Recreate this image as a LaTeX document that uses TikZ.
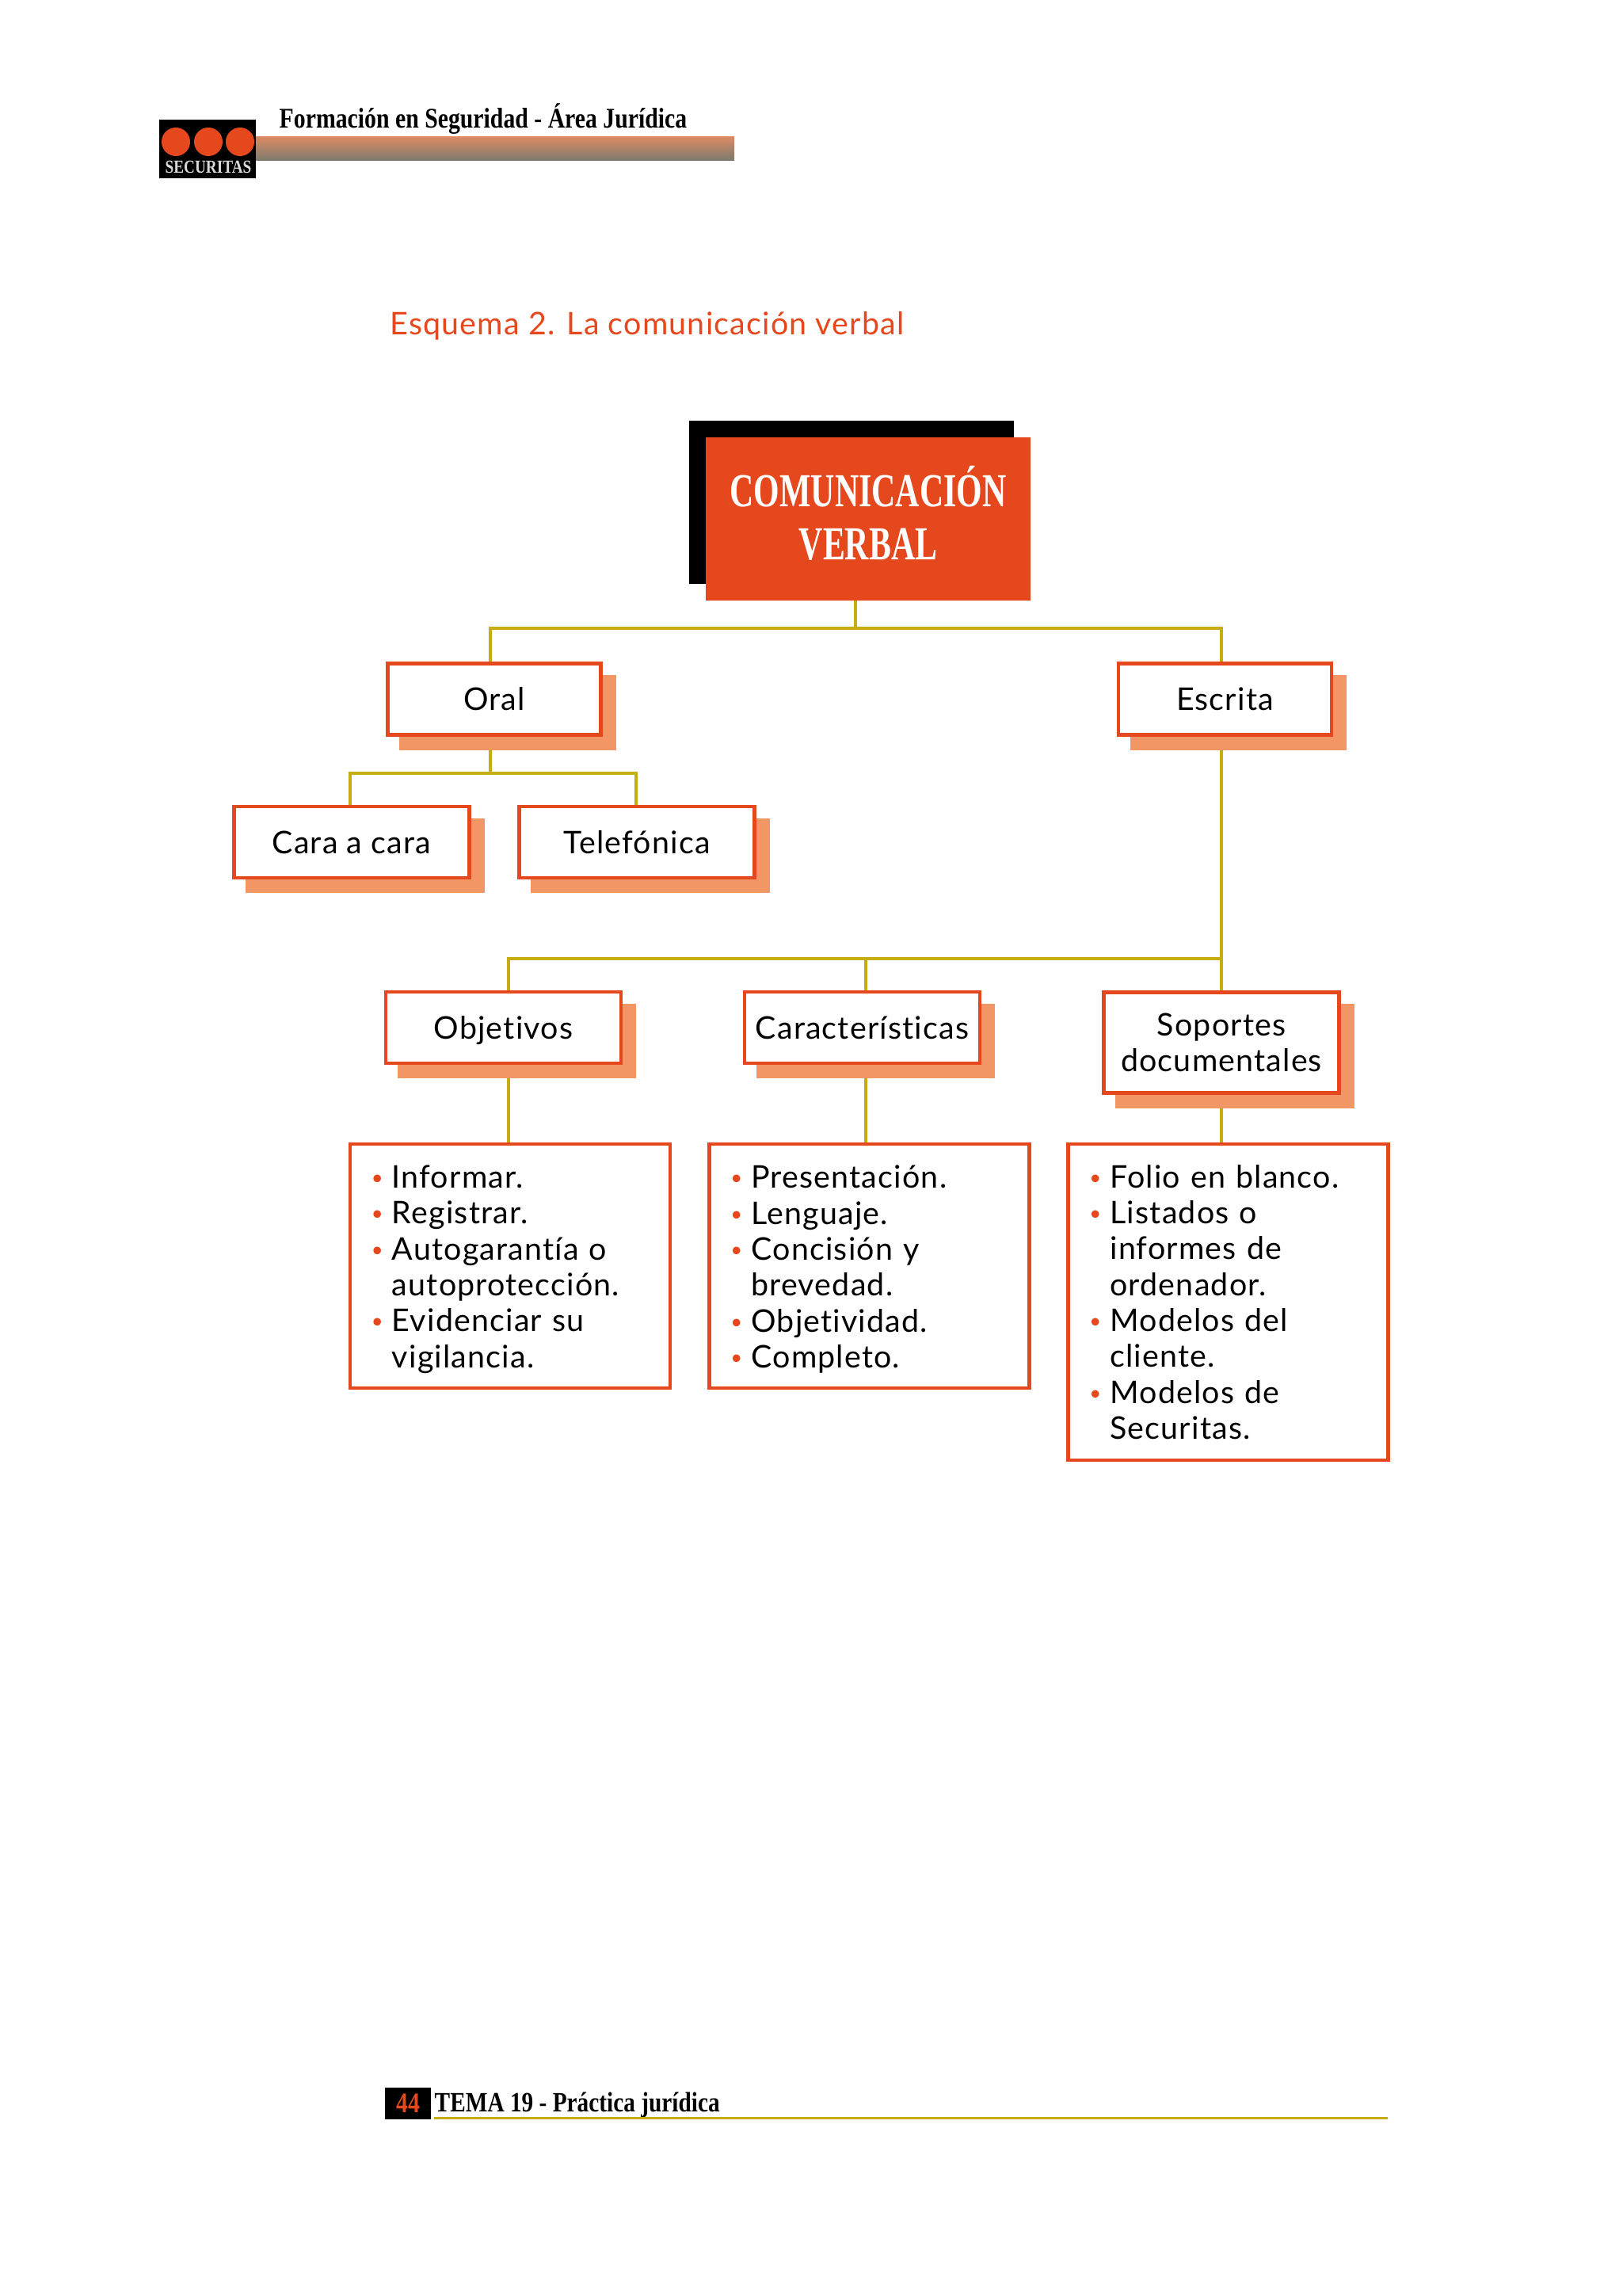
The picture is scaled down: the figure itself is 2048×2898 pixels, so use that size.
\documentclass[tikz,border=0pt]{standalone}
\usepackage{xcolor}
\usepackage{fontspec}
\usetikzlibrary{positioning,shadows,backgrounds}
\newfontfamily\labelfont[LetterSpace=3,Ligatures=NoCommon]{Lato}
\newfontfamily\headfont[FakeStretch=0.83]{Liberation Serif}
\newfontfamily\titlefont[FakeStretch=0.70]{Liberation Serif}
\definecolor{brandred}{HTML}{E5481D}
\definecolor{softred}{HTML}{F19664}
\definecolor{linkolive}{HTML}{C6AD14}
\definecolor{barTop}{HTML}{DB8A63}
\definecolor{barLow}{HTML}{7A7A6E}
\newcommand{\litem}[1]{\makebox[0.27cm][l]{\hspace{0.01cm}\raisebox{0.04cm}{\textcolor{brandred}{\fontsize{7.3}{8}\selectfont\textbullet}}}#1}
\newcommand{\lcont}[1]{\hspace*{0.27cm}#1}
\newcommand{\lfirst}{\rule{0pt}{0.37cm}}

\begin{document}
\begin{tikzpicture}[
  x=0.01cm, y=-0.01cm,
  box/.style={rectangle, draw=brandred, fill=white, line width=0.045cm, align=center,
              minimum width=2.97cm, minimum height=0.9cm, inner sep=0pt,
              font=\labelfont\fontsize{11.2}{12.9}\selectfont,
              general shadow={shadow xshift=0.17cm, shadow yshift=-0.17cm,
                              fill=softred, draw=softred}},
  listbox/.style={rectangle, draw=brandred, fill=white, line width=0.045cm, align=left,
              minimum width=4.04cm, minimum height=3.08cm, inner sep=0pt, text width=3.52cm,
              font=\labelfont\fontsize{11.2}{12.9}\selectfont},
  link/.style={linkolive, line width=0.035cm},
  head/.style={anchor=base west, inner sep=0pt, font=\headfont\bfseries\fontsize{10.2}{12}\selectfont},
  dot/.style={circle, fill=brandred, minimum size=0.36cm, inner sep=0pt},
]
  \useasboundingbox (0,0) rectangle (2048,2898);

  % Page header
  \shade[top color=barTop, bottom color=barLow] (323,173) rectangle (927,203);
  \node[fill=black, minimum width=1.22cm, minimum height=0.73cm, inner sep=0pt] (Logo) at (262,188) {};
  \node[dot] (DotA) at (222,179) {};
  \node[dot] (DotB) at (263,179) {};
  \node[dot] (DotC) at (303,179) {};
  \node[font=\headfont\bfseries\fontsize{6.6}{7}\selectfont, text=black!15, inner sep=0pt, anchor=base] (LogoName) at (263,219) {SECURITAS};
  \node[head] (HeadTitle) at (352,162) {Formación en Seguridad - Área Jurídica};

  % Scheme title
  \node[anchor=base west, inner sep=0pt, text=brandred, font=\labelfont\fontsize{11.2}{13}\selectfont]
    (SchemeTitle) at (492,423) {Esquema 2. La comunicación verbal};

  % Root
  \node[rectangle, fill=brandred, minimum width=4.1cm, minimum height=2.05cm, inner sep=0pt,
        general shadow={shadow xshift=-0.21cm, shadow yshift=0.21cm, fill=black}]
    (Root) at (1096,655) {};
  \node[align=center, inner sep=0pt, text=white, font=\titlefont\bfseries\fontsize{17}{19}\selectfont]
    (RootText) at (1096,648) {COMUNICACIÓN\\VERBAL};

  % First level
  \node[box, minimum width=2.69cm] (Oral) at (624,882.5) {Oral};
  \node[box, minimum width=2.69cm] (Escrita) at (1546.5,882.5) {Escrita};
  \node[box] (Cara) at (444,1063) {Cara a cara};
  \node[box] (Telefonica) at (804,1063) {Telefónica};

  % Second level
  \node[box, text depth=0pt] (Objetivos) at (635.5,1297) {Objetivos};
  \node[box] (Caract) at (1088.5,1297) {Características};
  \node[box, minimum height=1.27cm] (Soportes) at (1542,1316) {Soportes\\documentales};

  % Lists
  \node[listbox] (ObjList) at (644,1598) {%
    \lfirst\litem{Informar.}\\\litem{Registrar.}\\\litem{Autogarantía o}\\\lcont{autoprotección.}\\%
    \litem{Evidenciar su}\\\lcont{vigilancia.}};
  \node[listbox] (CarList) at (1097.5,1598) {%
    \lfirst\litem{Presentación.}\\\litem{Lenguaje.}\\\litem{Concisión y}\\\lcont{brevedad.}\\%
    \litem{Objetividad.}\\\litem{Completo.}};
  \node[listbox, minimum height=3.99cm] (SopList) at (1550.5,1643.5) {%
    \litem{Folio en blanco.}\\\litem{Listados o}\\\lcont{informes de}\\\lcont{ordenador.}\\%
    \litem{Modelos del}\\\lcont{cliente.}\\\litem{Modelos de}\\\lcont{Securitas.}};

  % Page footer
  \node[fill=black, minimum width=0.575cm, minimum height=0.4cm, inner sep=0pt, text=brandred,
        font=\headfont\bfseries\fontsize{10.2}{12}\selectfont] (PageNo) at (515,2655) {44};
  \node[head, font=\headfont\bfseries\fontsize{10.05}{12}\selectfont] (FootTitle) at (548,2665) {TEMA 19 - Práctica jurídica};
  \coordinate (FootEnd) at (1752,2673);
  \draw[link, line width=0.03cm] (FootEnd -| FootTitle.west) -- (FootEnd);

  % Connectors
  \coordinate (TopBus) at (1080,793);
  \coordinate (OralDrop) at (619,793);
  \coordinate (EscritaDrop) at (1542,793);
  \coordinate (OralFork) at (619,976);
  \coordinate (CaraDrop) at (442,976);
  \coordinate (TelDrop) at (803,976);
  \coordinate (ObjDrop) at (642,1210);
  \coordinate (CarDrop) at (1093,1210);
  \coordinate (SopDrop) at (1542,1210);
  \begin{scope}[on background layer]
    \draw[link] (Root.south -| TopBus) -- (TopBus);
    \draw[link] (OralDrop |- Oral.north) -- (OralDrop) -- (EscritaDrop) -- (EscritaDrop |- Escrita.north);
    \draw[link] (OralFork |- Oral.south) -- (OralFork);
    \draw[link] (CaraDrop |- Cara.north) -- (CaraDrop) -- (TelDrop) -- (TelDrop |- Telefonica.north);
    \draw[link] (SopDrop |- Escrita.south) -- (SopDrop |- Soportes.north);
    \draw[link] (ObjDrop |- Objetivos.north) -- (ObjDrop) -- (SopDrop);
    \draw[link] (CarDrop) -- (CarDrop |- Caract.north);
    \draw[link] (ObjDrop |- Objetivos.south) -- (ObjDrop |- ObjList.north);
    \draw[link] (CarDrop |- Caract.south) -- (CarDrop |- CarList.north);
    \draw[link] (SopDrop |- Soportes.south) -- (SopDrop |- SopList.north);
  \end{scope}
\end{tikzpicture}
\end{document}
